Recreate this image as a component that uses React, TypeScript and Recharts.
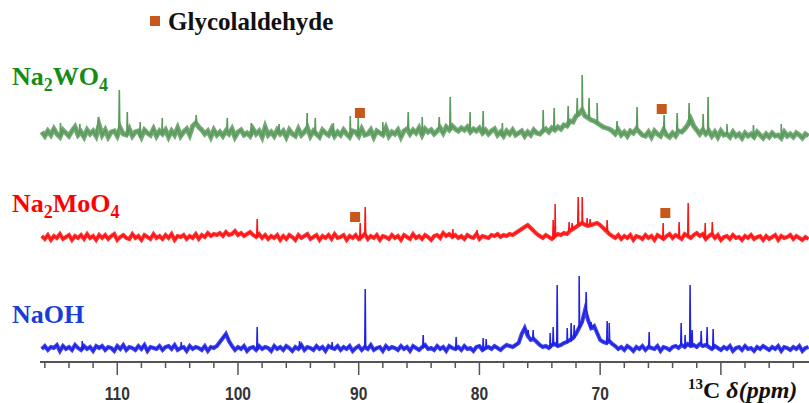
import { ComposedChart, Line, Scatter, XAxis, YAxis } from "recharts";

// baseline samples every 0.25 ppm, from 116.25 down to 52.75 (px above each trace's offset)
const GRID_START = 116.25;
const GRID_STEP = 0.25;

const WO4_BASE = [
  1, -3, 2, -2, 4, -1, -4, 3, 0, -3, 2, 6, -2, 1, -4, 3, -1, 2, -3, 8,
  -2, 3, -4, 1, 2, -3, 5, -1, -2, 4, -3, 1, 2, -4, 3, 0, -2, 4, -3, 2,
  -1, 3, -4, 2, -2, 5, -3, 1, 4, -2, 7, 10, 6, 3, -1, 2, -4, 3, -2, 1,
  -3, 2, -1, 4, -4, 1, 3, -2, 0, -3, 4, -1, 2, -4, 6, -2, 1, -3, 3, -1,
  2, -4, 3, -1, -3, 4, -2, 1, 5, -3, 2, -1, -4, 3, 0, -2, 4, -3, 1, -2,
  3, -1, -4, 2, 1, -3, 4, -2, -1, 3, -4, 2, 0, -2, 5, -3, 1, -1, 3, -4,
  2, 4, -1, 3, 0, 5, -2, 4, 1, 3, -1, 2, 5, 0, 6, 3, 7, 4, 2, 5,
  3, 6, 1, 4, 2, 5, 0, 3, -1, 2, 4, -2, 1, -3, 2, -1, 3, -2, 0, 2,
  -3, 1, -2, 3, 0, -1, 2, 4, 1, 5, 3, 6, 4, 8, 7, 12, 11, 17, 19, 23,
  17, 15, 13, 12, 10, 8, 6, 5, 4, 2, -1, 3, -2, 1, -3, 2, 0, 4, 1, -2,
  -3, 1, -4, 2, -1, -3, 3, -2, -4, 0, -3, 2, 1, 4, 8, 14, 7, 3, -1, 3,
  -1, 2, -3, 1, -4, 2, -2, -1, -4, 1, -3, -1, -5, 0, -3, -1, -4, 1, -2, -5,
  -1, -4, 0, -3, -2, -5, 1, -3, -1, -4, 0, -2, -5, -1, -3,
];

const MOO4_BASE = [
  1, -2, 2, -3, 1, -1, 3, -2, 0, 2, -3, 1, -1, 2, -2, 3, -1, 1, -3, 2,
  -1, 2, -2, 1, 3, -3, 0, 2, -1, -2, 3, -1, 1, -3, 2, 0, -2, 3, -1, 1,
  -2, 2, -1, 3, -3, 1, 0, 2, -2, 1, -1, 3, -2, 2, 0, 4, 1, 3, 2, 4,
  1, 5, 2, 3, 6, 2, 4, 1, 3, 5, 2, 0, 3, -1, 2, -2, 1, -1, 2, -3,
  1, -2, 2, 0, -3, 2, -1, 1, 3, -2, 0, 2, -3, 1, -1, 2, -2, 3, -1, 0,
  2, -3, 1, -1, 2, -2, 0, 3, -2, 1, -1, 2, -3, 1, 0, -2, 2, -1, 1, -3,
  2, 0, -2, 3, -1, 1, -2, 2, 0, -3, 1, 2, -1, 4, 1, 3, 0, 2, -1, 1,
  -2, 2, 0, -1, 3, -2, 1, 0, -1, 2, 1, 3, 0, 2, 1, 3, 2, 4, 6, 8,
  10, 12, 9, 6, 3, 1, -1, 2, 0, -2, 1, 3, 2, 4, 3, 6, 8, 10, 12, 14,
  12, 11, 12, 13, 14, 12, 9, 6, 3, 1, -1, 2, -2, 1, -1, 2, -3, 1, 0, -2,
  2, -1, 1, -3, 2, 0, -2, 1, 3, -1, 2, 0, -2, 3, 1, -1, 2, 4, 1, 3,
  -2, 1, 3, -1, 2, -3, 0, 1, -2, 2, -1, 0, -3, 1, -1, 2, -2, 0, 1, -3,
  1, -2, 0, 2, -3, 1, -1, 0, 2, -2, 1, -1, -3, 0, -2,
];

const NAOH_BASE = [
  -1, 2, -2, 1, 0, 3, -3, 2, -1, 1, -2, 3, 0, -2, 2, -1, 1, -3, 2, 0,
  2, -2, 1, 0, -3, 2, -1, 3, -2, 1, 0, -2, 2, -1, 3, -3, 1, 0, -1, 2,
  -2, 1, 2, -1, 3, -2, 0, 1, -3, 2, -1, 1, 0, -2, 2, -3, 1, 0, 2, 6,
  10, 14, 7, 2, -2, 1, -1, 2, -3, 0, 1, -2, 2, -1, 1, 0, -3, 2, -1, 1,
  -2, 2, 0, -3, 1, -1, 3, -2, 1, 0, -2, 2, -1, 1, -3, 2, 0, -1, 2, -2,
  1, -1, 2, -3, 0, 2, -2, 1, -1, 3, -2, 0, 1, -3, 2, -1, 1, 0, -2, 2,
  -1, 1, -3, 2, 0, -2, 1, 3, -1, 0, -2, 2, -1, 1, -3, 2, 0, -1, 1, -2,
  2, -1, 0, -3, 1, 2, -2, 0, 1, -1, 2, 0, -2, 1, 3, 2, 1, 3, 5, 14,
  20, 12, 8, 9, 6, 3, 1, 2, 0, 3, 4, 2, 3, 5, 6, 8, 10, 14, 20, 26,
  38, 28, 20, 22, 15, 8, 6, 5, 7, 4, 2, -1, 1, -2, 2, 0, -3, 1, -1, 2,
  -2, 1, 0, -1, 2, -3, 1, 0, -2, 1, 2, 0, 3, 1, 4, 2, 3, 1, 4, 2,
  3, 1, -1, 2, 0, -2, 1, -1, 2, -3, 0, 1, -2, 2, -1, 0, -3, 1, -1, 2,
  0, -2, 1, -1, 2, -3, 1, 0, -2, 1, -1, 2, -3, 0, 1,
];

// sharp lines: [ppm, height above trace baseline]
const WO4_PEAKS = [
  [114.7, 10], [113.1, 9], [111.57, 16], [109.83, 43], [109.17, 21], [108.1, 11],
  [106.27, 15], [103.46, 18], [100.89, 15], [98.9, 10], [96.6, 9], [94.27, 20],
  [93.6, 15], [92.1, 10], [90.7, 17], [90.04, 15], [88.0, 11], [85.9, 21],
  [84.74, 16], [83.33, 16], [82.42, 36], [80.77, 21], [79.69, 22], [78.1, 10],
  [74.72, 23], [73.81, 25], [72.65, 27], [71.9, 35], [71.49, 58], [70.92, 35],
  [70.25, 30], [68.6, 12], [66.94, 26], [64.7, 18], [63.62, 20], [62.63, 30],
  [61.47, 19], [61.06, 36], [59.5, 9], [57.3, 8], [55.0, 9],
];

const MOO4_PEAKS = [
  [98.41, 18], [89.88, 14], [89.46, 30], [82.2, 8], [80.2, 7], [73.89, 17],
  [73.73, 33], [72.57, 15], [72.32, 14], [71.82, 40], [71.49, 40], [71.08, 19],
  [70.83, 18], [69.42, 17], [64.78, 14], [63.46, 15], [62.71, 34], [61.3, 14],
  [60.71, 15],
];

const NAOH_PEAKS = [
  [112.9, 7], [104.7, 6], [98.41, 21], [94.9, 7], [92.2, 6], [89.46, 59],
  [84.66, 13], [81.93, 11], [79.69, 10], [79.44, 9], [75.96, 18], [75.55, 18],
  [74.14, 15], [73.89, 21], [73.56, 63], [72.73, 20], [72.4, 25], [72.15, 23],
  [71.74, 72], [71.16, 56], [70.75, 26], [69.42, 27], [69.25, 25], [65.94, 16],
  [63.29, 25], [62.96, 13], [62.55, 63], [62.38, 18], [61.63, 17], [61.14, 21],
  [60.64, 19],
];

// glycolaldehyde markers: [ppm, height above trace baseline]
const GLYCO_WO4 = [[89.9, 20], [64.9, 24]];
const GLYCO_MOO4 = [[90.3, 20], [64.6, 24]];

const TICKS = [116, 114, 112, 110, 108, 106, 104, 102, 100, 98, 96, 94, 92, 90, 88, 86, 84, 82, 80, 78, 76, 74, 72, 70, 68, 66, 64, 62, 60, 58, 56, 54];
const TICK_LABELS = [110, 100, 90, 80, 70];

const OFFSET_WO4 = 229;
const OFFSET_MOO4 = 125;
const OFFSET_NAOH = 14;

const GREEN = "#5a9a5c";
const RED = "#ff1212";
const BLUE = "#1e22e4";
const ORANGE = "#c7581a";
const SERIF = "'Liberation Serif', 'Times New Roman', serif";

function buildBand(base: number[], offset: number) {
  return base.map((v, i) => ({ ppm: GRID_START - i * GRID_STEP, v: offset + v }));
}

function buildTrace(base: number[], peaks: number[][], offset: number) {
  const rows = buildBand(base, offset);
  peaks.forEach(([p, h]) => {
    const idx = Math.min(base.length - 1, Math.max(0, Math.round((GRID_START - p) / GRID_STEP)));
    const b = offset + base[idx];
    rows.push({ ppm: p + 0.04, v: b }, { ppm: p, v: offset + h }, { ppm: p - 0.04, v: b });
  });
  return rows.sort((a, b) => b.ppm - a.ppm);
}

const wo4Band = buildBand(WO4_BASE, OFFSET_WO4);
const moo4Band = buildBand(MOO4_BASE, OFFSET_MOO4);
const naohBand = buildBand(NAOH_BASE, OFFSET_NAOH);
const wo4Data = buildTrace(WO4_BASE, WO4_PEAKS, OFFSET_WO4);
const moo4Data = buildTrace(MOO4_BASE, MOO4_PEAKS, OFFSET_MOO4);
const naohData = buildTrace(NAOH_BASE, NAOH_PEAKS, OFFSET_NAOH);
const glycoData = [
  ...GLYCO_WO4.map(([p, h]) => ({ ppm: p, v: OFFSET_WO4 + h })),
  ...GLYCO_MOO4.map(([p, h]) => ({ ppm: p, v: OFFSET_MOO4 + h })),
];

const AxisTick = (props: any) => {
  const { x, y, payload } = props;
  const major = payload.value % 10 === 0;
  return (
    <g>
      <line x1={x} x2={x} y1={y} y2={y + (major ? 13 : 6)} stroke="#555" strokeWidth={1.5} />
      {TICK_LABELS.includes(payload.value) && (
        <text
          transform={`translate(${x},${y + 38}) scale(0.82,1)`}
          textAnchor="middle"
          fontSize={19}
          fontWeight="bold"
          fill="#333"
          fontFamily="'Liberation Sans', Arial, sans-serif"
        >
          {payload.value}
        </text>
      )}
    </g>
  );
};

const GlycoMark = (props: any) => (
  <rect x={props.cx - 5} y={props.cy - 5} width={10} height={10} fill={ORANGE} />
);

export default function App() {
  return (
    <div style={{ position: "relative", width: 809, height: 403, background: "#fff" }}>
      <style>{"body{margin:0}"}</style>
      <ComposedChart width={809} height={403} margin={{ top: 0, right: 0, bottom: 0, left: 40 }}>
        <XAxis
          dataKey="ppm"
          type="number"
          domain={[52.7, 116.4]}
          reversed
          allowDataOverflow
          ticks={TICKS}
          interval={0}
          height={41}
          tickSize={0}
          tickMargin={0}
          tickLine={false}
          axisLine={{ stroke: "#555", strokeWidth: 2 }}
          tick={<AxisTick />}
        />
        <YAxis hide type="number" domain={[0, 362]} allowDataOverflow />
        <Line data={wo4Band} dataKey="v" stroke={GREEN} strokeWidth={5} strokeOpacity={0.85} dot={false} isAnimationActive={false} />
        <Line data={moo4Band} dataKey="v" stroke={RED} strokeWidth={4} strokeOpacity={0.85} dot={false} isAnimationActive={false} />
        <Line data={naohBand} dataKey="v" stroke={BLUE} strokeWidth={4} strokeOpacity={0.85} dot={false} isAnimationActive={false} />
        <Line data={wo4Data} dataKey="v" stroke={GREEN} strokeWidth={1.6} dot={false} isAnimationActive={false} />
        <Line data={moo4Data} dataKey="v" stroke={RED} strokeWidth={1.5} dot={false} isAnimationActive={false} />
        <Line data={naohData} dataKey="v" stroke={BLUE} strokeWidth={1.5} dot={false} isAnimationActive={false} />
        <Scatter data={glycoData} dataKey="v" shape={<GlycoMark />} isAnimationActive={false} />
      </ComposedChart>
      <svg width={809} height={403} style={{ position: "absolute", left: 0, top: 0, pointerEvents: "none" }}>
        <rect x={150} y={16} width={10} height={10} fill={ORANGE} />
        <text x={168} y={30} fontFamily={SERIF} fontWeight="bold" fontSize={25} fill="#111">
          Glycolaldehyde
        </text>
        <text x={12} y={85} fontFamily={SERIF} fontWeight="bold" fontSize={26} fill="#178a17">
          Na<tspan fontSize={18} dy={6}>2</tspan><tspan dy={-6}>WO</tspan><tspan fontSize={18} dy={6}>4</tspan>
        </text>
        <text x={12} y={212} fontFamily={SERIF} fontWeight="bold" fontSize={26} fill="#ff0000">
          Na<tspan fontSize={18} dy={6}>2</tspan><tspan dy={-6}>MoO</tspan><tspan fontSize={18} dy={6}>4</tspan>
        </text>
        <text x={12} y={323} fontFamily={SERIF} fontWeight="bold" fontSize={26} fill="#1a3cd6">
          NaOH
        </text>
        <rect x={684} y={379} width={125} height={24} fill="#fff" />
        <text x={688} y={398} fontFamily={SERIF} fontWeight="bold" fontSize={24} fill="#111">
          <tspan fontSize={15} dy={-9}>13</tspan>
          <tspan dy={9}>C </tspan>
          <tspan fontStyle="italic">δ(ppm)</tspan>
        </text>
      </svg>
    </div>
  );
}
